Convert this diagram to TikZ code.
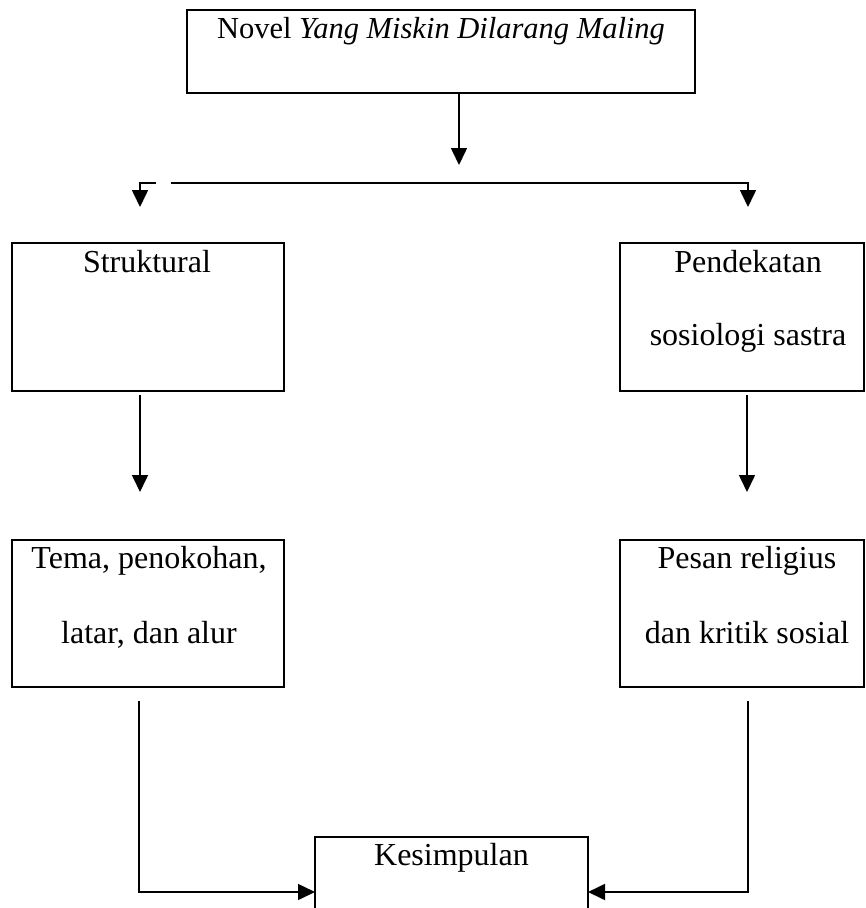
\documentclass[tikz,border=0pt]{standalone}
\usepackage{fontspec}
\setmainfont{Liberation Serif}
\usetikzlibrary{arrows.meta}
\tikzset{
  box/.style={draw, line width=2.2pt, inner sep=0pt, outer sep=0pt},
  txt/.style={inner sep=0pt, anchor=base, font=\fontsize{32}{38}\selectfont},
  toptext/.style={inner sep=0pt, anchor=base, font=\fontsize{30.5}{36}\selectfont},
  arr/.style={line width=1.6pt, -{Triangle[length=17pt,width=16pt]}}
}
\begin{document}
\begin{tikzpicture}[x=1pt,y=-1pt]
\useasboundingbox (0,0) rectangle (866,908);
% boxes
\node[box, minimum width=508, minimum height=83] (top) at (441,51.5) {};
\node[box, minimum width=272, minimum height=148] (sb) at (148,317) {};
\node[box, minimum width=244, minimum height=148] (pb) at (742,317) {};
\node[box, minimum width=272, minimum height=147] (tb) at (148,613.5) {};
\node[box, minimum width=244, minimum height=147] (rb) at (742,613.5) {};
\node[inner sep=0pt, outer sep=0pt, minimum width=273, minimum height=80] (kb) at (451.5,877) {};
\draw[line width=2.2pt] (kb.south west) -- (kb.north west) -- (kb.north east) -- (kb.south east);
% texts
\node[toptext] (toptxt) at (441,38) {Novel \textit{Yang Miskin Dilarang Maling}};
\node[txt] (sbtxt) at (147,272) {Struktural};
\node[txt] (pbtxt1) at (748,272) {Pendekatan};
\node[txt] (pbtxt2) at (748,345) {sosiologi sastra};
\node[txt] (tbtxt1) at (149,568) {Tema, penokohan,};
\node[txt] (tbtxt2) at (149,643) {latar, dan alur};
\node[txt] (rbtxt1) at (747,568) {Pesan religius};
\node[txt] (rbtxt2) at (747,643) {dan kritik sosial};
\node[txt] (kbtxt) at (451.5,865) {Kesimpulan};
% coordinates
\coordinate (t1) at (459,165);
\coordinate (hL) at (171,183);
\coordinate (hR) at (748,183);
\coordinate (aR) at (748,207);
\coordinate (hl2) at (156,183);
\coordinate (aL) at (140,207);
\coordinate (m1s) at (140,395);
\coordinate (m1e) at (140,492);
\coordinate (m2s) at (747,395);
\coordinate (m2e) at (747,492);
\coordinate (b1s) at (139,701);
\coordinate (b1c) at (139,892);
\coordinate (b2s) at (748,701);
\coordinate (b2c) at (748,892);
% connectors
\draw[arr] (top.south -| t1) -- (t1);
\draw[arr] (hL) -- (hR) -- (aR);
\draw[arr] (hl2) -| (aL);
\draw[arr] (m1s) -- (m1e);
\draw[arr] (m2s) -- (m2e);
\draw[arr] (b1s) -- (b1c) -- (kb.west |- b1c);
\draw[arr] (b2s) -- (b2c) -- (kb.east |- b2c);
\end{tikzpicture}
\end{document}
